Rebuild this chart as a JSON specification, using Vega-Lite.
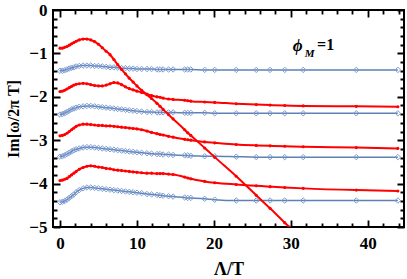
{
  "$schema": "https://vega.github.io/schema/vega-lite/v6.json",
  "width": 351,
  "height": 217,
  "autosize": {"type": "none"},
  "padding": {"left": 53, "top": 10, "right": 3, "bottom": 52},
  "background": "white",
  "config": {
    "view": {"stroke": "black", "strokeWidth": 2},
    "axis": {"domain": false, "ticks": false, "grid": false, "gridColor": "black", "gridWidth": 1.8, "gridOpacity": 1, "zindex": 1, "labelOverlap": false, "labelFont": "Liberation Serif", "labelFontWeight": "bold", "labelFontSize": 17, "labelColor": "black", "titleFont": "Liberation Serif", "titleFontWeight": "bold", "titleFontSize": 17, "titleColor": "black"}
  },
  "datasets": {
    "red": [
      {"c":"r1","x":0,"y":-0.88},{"c":"r1","x":0.3,"y":-0.88},{"c":"r1","x":0.6,"y":-0.86},{"c":"r1","x":0.9,"y":-0.84},{"c":"r1","x":1.2,"y":-0.81},{"c":"r1","x":1.5,"y":-0.78},{"c":"r1","x":1.8,"y":-0.75},{"c":"r1","x":2.1,"y":-0.72},{"c":"r1","x":2.5,"y":-0.69},{"c":"r1","x":3.0,"y":-0.67},{"c":"r1","x":3.5,"y":-0.67},{"c":"r1","x":4.0,"y":-0.69},{"c":"r1","x":4.5,"y":-0.73},{"c":"r1","x":5.0,"y":-0.79},{"c":"r1","x":5.5,"y":-0.87},{"c":"r1","x":6.0,"y":-0.95},{"c":"r1","x":6.5,"y":-1.03},{"c":"r1","x":7.0,"y":-1.14},{"c":"r1","x":7.5,"y":-1.26},{"c":"r1","x":8.0,"y":-1.37},{"c":"r1","x":8.5,"y":-1.47},{"c":"r1","x":9.0,"y":-1.57},{"c":"r1","x":9.5,"y":-1.66},{"c":"r1","x":10.0,"y":-1.75},{"c":"r1","x":10.6,"y":-1.85},{"c":"r1","x":11.3,"y":-1.95},{"c":"r1","x":11.9,"y":-2.04},{"c":"r1","x":12.6,"y":-2.15},{"c":"r1","x":13.0,"y":-2.22},{"c":"r1","x":13.4,"y":-2.29},{"c":"r1","x":14.1,"y":-2.41},{"c":"r1","x":14.7,"y":-2.51},{"c":"r1","x":16.2,"y":-2.76},{"c":"r1","x":16.6,"y":-2.83},{"c":"r1","x":17.0,"y":-2.89},{"c":"r1","x":18.8,"y":-3.18},{"c":"r1","x":20.1,"y":-3.39},{"c":"r1","x":22.9,"y":-3.83},{"c":"r1","x":25.5,"y":-4.27},{"c":"r1","x":27.3,"y":-4.57},{"c":"r1","x":29.2,"y":-4.9},{"c":"r1","x":29.8,"y":-5.0},
      {"c":"r2","x":0,"y":-1.88},{"c":"r2","x":0.3,"y":-1.87},{"c":"r2","x":0.6,"y":-1.85},{"c":"r2","x":0.9,"y":-1.82},{"c":"r2","x":1.2,"y":-1.79},{"c":"r2","x":1.5,"y":-1.76},{"c":"r2","x":1.8,"y":-1.73},{"c":"r2","x":2.1,"y":-1.71},{"c":"r2","x":2.5,"y":-1.7},{"c":"r2","x":3.0,"y":-1.69},{"c":"r2","x":3.5,"y":-1.7},{"c":"r2","x":4.0,"y":-1.72},{"c":"r2","x":4.5,"y":-1.74},{"c":"r2","x":5.0,"y":-1.75},{"c":"r2","x":5.5,"y":-1.75},{"c":"r2","x":6.0,"y":-1.73},{"c":"r2","x":6.5,"y":-1.7},{"c":"r2","x":7.0,"y":-1.67},{"c":"r2","x":7.5,"y":-1.68},{"c":"r2","x":8.0,"y":-1.72},{"c":"r2","x":8.5,"y":-1.77},{"c":"r2","x":9.0,"y":-1.81},{"c":"r2","x":9.5,"y":-1.84},{"c":"r2","x":10.0,"y":-1.87},{"c":"r2","x":10.6,"y":-1.9},{"c":"r2","x":11.3,"y":-1.94},{"c":"r2","x":11.9,"y":-1.97},{"c":"r2","x":12.6,"y":-2.0},{"c":"r2","x":13.0,"y":-2.01},{"c":"r2","x":13.4,"y":-2.03},{"c":"r2","x":14.1,"y":-2.05},{"c":"r2","x":14.7,"y":-2.06},{"c":"r2","x":16.2,"y":-2.08},{"c":"r2","x":16.6,"y":-2.09},{"c":"r2","x":17.0,"y":-2.1},{"c":"r2","x":18.8,"y":-2.12},{"c":"r2","x":20.1,"y":-2.13},{"c":"r2","x":22.9,"y":-2.16},{"c":"r2","x":25.5,"y":-2.18},{"c":"r2","x":27.3,"y":-2.19},{"c":"r2","x":29.2,"y":-2.2},{"c":"r2","x":31.6,"y":-2.21},{"c":"r2","x":38.5,"y":-2.22},{"c":"r2","x":43.9,"y":-2.23},
      {"c":"r3","x":0,"y":-2.9},{"c":"r3","x":0.3,"y":-2.89},{"c":"r3","x":0.6,"y":-2.87},{"c":"r3","x":0.9,"y":-2.84},{"c":"r3","x":1.2,"y":-2.8},{"c":"r3","x":1.5,"y":-2.76},{"c":"r3","x":1.8,"y":-2.72},{"c":"r3","x":2.1,"y":-2.68},{"c":"r3","x":2.5,"y":-2.65},{"c":"r3","x":3.0,"y":-2.63},{"c":"r3","x":3.5,"y":-2.63},{"c":"r3","x":4.0,"y":-2.64},{"c":"r3","x":4.5,"y":-2.65},{"c":"r3","x":5.0,"y":-2.66},{"c":"r3","x":5.5,"y":-2.66},{"c":"r3","x":6.0,"y":-2.67},{"c":"r3","x":6.5,"y":-2.67},{"c":"r3","x":7.0,"y":-2.68},{"c":"r3","x":7.5,"y":-2.69},{"c":"r3","x":8.0,"y":-2.7},{"c":"r3","x":8.5,"y":-2.71},{"c":"r3","x":9.0,"y":-2.72},{"c":"r3","x":9.5,"y":-2.73},{"c":"r3","x":10.0,"y":-2.74},{"c":"r3","x":10.6,"y":-2.76},{"c":"r3","x":11.3,"y":-2.79},{"c":"r3","x":11.9,"y":-2.82},{"c":"r3","x":12.6,"y":-2.85},{"c":"r3","x":13.0,"y":-2.87},{"c":"r3","x":13.4,"y":-2.88},{"c":"r3","x":14.1,"y":-2.91},{"c":"r3","x":14.7,"y":-2.93},{"c":"r3","x":16.2,"y":-2.98},{"c":"r3","x":16.6,"y":-2.99},{"c":"r3","x":17.0,"y":-3.0},{"c":"r3","x":18.8,"y":-3.04},{"c":"r3","x":20.1,"y":-3.06},{"c":"r3","x":22.9,"y":-3.1},{"c":"r3","x":25.5,"y":-3.12},{"c":"r3","x":27.3,"y":-3.13},{"c":"r3","x":29.2,"y":-3.14},{"c":"r3","x":31.6,"y":-3.15},{"c":"r3","x":38.5,"y":-3.17},{"c":"r3","x":43.9,"y":-3.19},
      {"c":"r4","x":0,"y":-3.93},{"c":"r4","x":0.3,"y":-3.92},{"c":"r4","x":0.6,"y":-3.9},{"c":"r4","x":0.9,"y":-3.88},{"c":"r4","x":1.2,"y":-3.84},{"c":"r4","x":1.5,"y":-3.8},{"c":"r4","x":1.8,"y":-3.76},{"c":"r4","x":2.1,"y":-3.72},{"c":"r4","x":2.5,"y":-3.67},{"c":"r4","x":3.0,"y":-3.63},{"c":"r4","x":3.5,"y":-3.6},{"c":"r4","x":4.0,"y":-3.59},{"c":"r4","x":4.5,"y":-3.6},{"c":"r4","x":5.0,"y":-3.62},{"c":"r4","x":5.5,"y":-3.63},{"c":"r4","x":6.0,"y":-3.65},{"c":"r4","x":6.5,"y":-3.66},{"c":"r4","x":7.0,"y":-3.68},{"c":"r4","x":7.5,"y":-3.69},{"c":"r4","x":8.0,"y":-3.7},{"c":"r4","x":8.5,"y":-3.71},{"c":"r4","x":9.0,"y":-3.72},{"c":"r4","x":9.5,"y":-3.73},{"c":"r4","x":10.0,"y":-3.74},{"c":"r4","x":10.6,"y":-3.75},{"c":"r4","x":11.3,"y":-3.76},{"c":"r4","x":11.9,"y":-3.76},{"c":"r4","x":12.6,"y":-3.77},{"c":"r4","x":13.0,"y":-3.77},{"c":"r4","x":13.4,"y":-3.77},{"c":"r4","x":14.1,"y":-3.78},{"c":"r4","x":14.7,"y":-3.79},{"c":"r4","x":16.2,"y":-3.85},{"c":"r4","x":16.6,"y":-3.87},{"c":"r4","x":17.0,"y":-3.89},{"c":"r4","x":18.8,"y":-3.95},{"c":"r4","x":20.1,"y":-3.98},{"c":"r4","x":22.9,"y":-4.02},{"c":"r4","x":25.5,"y":-4.05},{"c":"r4","x":27.3,"y":-4.07},{"c":"r4","x":29.2,"y":-4.09},{"c":"r4","x":31.6,"y":-4.11},{"c":"r4","x":38.5,"y":-4.15},{"c":"r4","x":43.9,"y":-4.17}
    ],
    "blue": [
      {"c":"b1","x":0,"y":-1.4},{"c":"b1","x":0.3,"y":-1.4},{"c":"b1","x":0.6,"y":-1.39},{"c":"b1","x":0.9,"y":-1.37},{"c":"b1","x":1.2,"y":-1.35},{"c":"b1","x":1.5,"y":-1.33},{"c":"b1","x":1.8,"y":-1.32},{"c":"b1","x":2.1,"y":-1.3},{"c":"b1","x":2.5,"y":-1.29},{"c":"b1","x":3.0,"y":-1.28},{"c":"b1","x":3.5,"y":-1.28},{"c":"b1","x":4.0,"y":-1.28},{"c":"b1","x":4.5,"y":-1.29},{"c":"b1","x":5.0,"y":-1.29},{"c":"b1","x":5.5,"y":-1.3},{"c":"b1","x":6.0,"y":-1.31},{"c":"b1","x":6.5,"y":-1.32},{"c":"b1","x":7.0,"y":-1.32},{"c":"b1","x":7.5,"y":-1.33},{"c":"b1","x":8.0,"y":-1.34},{"c":"b1","x":8.5,"y":-1.34},{"c":"b1","x":9.0,"y":-1.35},{"c":"b1","x":9.5,"y":-1.35},{"c":"b1","x":10.0,"y":-1.36},{"c":"b1","x":10.6,"y":-1.36},{"c":"b1","x":11.3,"y":-1.36},{"c":"b1","x":11.9,"y":-1.36},{"c":"b1","x":12.6,"y":-1.37},{"c":"b1","x":13.0,"y":-1.37},{"c":"b1","x":13.4,"y":-1.37},{"c":"b1","x":14.1,"y":-1.37},{"c":"b1","x":14.7,"y":-1.37},{"c":"b1","x":16.2,"y":-1.37},{"c":"b1","x":16.6,"y":-1.37},{"c":"b1","x":17.0,"y":-1.37},{"c":"b1","x":18.8,"y":-1.38},{"c":"b1","x":20.1,"y":-1.38},{"c":"b1","x":22.9,"y":-1.38},{"c":"b1","x":25.5,"y":-1.38},{"c":"b1","x":27.3,"y":-1.38},{"c":"b1","x":29.2,"y":-1.38},{"c":"b1","x":31.6,"y":-1.38},{"c":"b1","x":38.5,"y":-1.38},{"c":"b1","x":43.9,"y":-1.38},
      {"c":"b2","x":0,"y":-2.41},{"c":"b2","x":0.3,"y":-2.4},{"c":"b2","x":0.6,"y":-2.38},{"c":"b2","x":0.9,"y":-2.35},{"c":"b2","x":1.2,"y":-2.32},{"c":"b2","x":1.5,"y":-2.29},{"c":"b2","x":1.8,"y":-2.27},{"c":"b2","x":2.1,"y":-2.25},{"c":"b2","x":2.5,"y":-2.23},{"c":"b2","x":3.0,"y":-2.22},{"c":"b2","x":3.5,"y":-2.21},{"c":"b2","x":4.0,"y":-2.21},{"c":"b2","x":4.5,"y":-2.22},{"c":"b2","x":5.0,"y":-2.23},{"c":"b2","x":5.5,"y":-2.24},{"c":"b2","x":6.0,"y":-2.25},{"c":"b2","x":6.5,"y":-2.26},{"c":"b2","x":7.0,"y":-2.27},{"c":"b2","x":7.5,"y":-2.28},{"c":"b2","x":8.0,"y":-2.29},{"c":"b2","x":8.5,"y":-2.3},{"c":"b2","x":9.0,"y":-2.31},{"c":"b2","x":9.5,"y":-2.32},{"c":"b2","x":10.0,"y":-2.33},{"c":"b2","x":10.6,"y":-2.34},{"c":"b2","x":11.3,"y":-2.35},{"c":"b2","x":11.9,"y":-2.35},{"c":"b2","x":12.6,"y":-2.36},{"c":"b2","x":13.0,"y":-2.36},{"c":"b2","x":13.4,"y":-2.36},{"c":"b2","x":14.1,"y":-2.36},{"c":"b2","x":14.7,"y":-2.36},{"c":"b2","x":16.2,"y":-2.37},{"c":"b2","x":16.6,"y":-2.37},{"c":"b2","x":17.0,"y":-2.37},{"c":"b2","x":18.8,"y":-2.37},{"c":"b2","x":20.1,"y":-2.38},{"c":"b2","x":22.9,"y":-2.38},{"c":"b2","x":25.5,"y":-2.38},{"c":"b2","x":27.3,"y":-2.38},{"c":"b2","x":29.2,"y":-2.38},{"c":"b2","x":31.6,"y":-2.38},{"c":"b2","x":38.5,"y":-2.38},{"c":"b2","x":43.9,"y":-2.38},
      {"c":"b3","x":0,"y":-3.38},{"c":"b3","x":0.3,"y":-3.37},{"c":"b3","x":0.6,"y":-3.35},{"c":"b3","x":0.9,"y":-3.32},{"c":"b3","x":1.2,"y":-3.29},{"c":"b3","x":1.5,"y":-3.26},{"c":"b3","x":1.8,"y":-3.23},{"c":"b3","x":2.1,"y":-3.21},{"c":"b3","x":2.5,"y":-3.19},{"c":"b3","x":3.0,"y":-3.17},{"c":"b3","x":3.5,"y":-3.16},{"c":"b3","x":4.0,"y":-3.16},{"c":"b3","x":4.5,"y":-3.17},{"c":"b3","x":5.0,"y":-3.18},{"c":"b3","x":5.5,"y":-3.19},{"c":"b3","x":6.0,"y":-3.2},{"c":"b3","x":6.5,"y":-3.21},{"c":"b3","x":7.0,"y":-3.22},{"c":"b3","x":7.5,"y":-3.23},{"c":"b3","x":8.0,"y":-3.24},{"c":"b3","x":8.5,"y":-3.25},{"c":"b3","x":9.0,"y":-3.26},{"c":"b3","x":9.5,"y":-3.27},{"c":"b3","x":10.0,"y":-3.28},{"c":"b3","x":10.6,"y":-3.29},{"c":"b3","x":11.3,"y":-3.3},{"c":"b3","x":11.9,"y":-3.31},{"c":"b3","x":12.6,"y":-3.32},{"c":"b3","x":13.0,"y":-3.32},{"c":"b3","x":13.4,"y":-3.33},{"c":"b3","x":14.1,"y":-3.33},{"c":"b3","x":14.7,"y":-3.34},{"c":"b3","x":16.2,"y":-3.35},{"c":"b3","x":16.6,"y":-3.35},{"c":"b3","x":17.0,"y":-3.36},{"c":"b3","x":18.8,"y":-3.37},{"c":"b3","x":20.1,"y":-3.37},{"c":"b3","x":22.9,"y":-3.38},{"c":"b3","x":25.5,"y":-3.39},{"c":"b3","x":27.3,"y":-3.39},{"c":"b3","x":29.2,"y":-3.39},{"c":"b3","x":31.6,"y":-3.39},{"c":"b3","x":38.5,"y":-3.39},{"c":"b3","x":43.9,"y":-3.39},
      {"c":"b4","x":0,"y":-4.43},{"c":"b4","x":0.3,"y":-4.42},{"c":"b4","x":0.6,"y":-4.4},{"c":"b4","x":0.9,"y":-4.37},{"c":"b4","x":1.2,"y":-4.33},{"c":"b4","x":1.5,"y":-4.29},{"c":"b4","x":1.8,"y":-4.25},{"c":"b4","x":2.1,"y":-4.2},{"c":"b4","x":2.5,"y":-4.15},{"c":"b4","x":3.0,"y":-4.11},{"c":"b4","x":3.5,"y":-4.09},{"c":"b4","x":4.0,"y":-4.09},{"c":"b4","x":4.5,"y":-4.1},{"c":"b4","x":5.0,"y":-4.11},{"c":"b4","x":5.5,"y":-4.12},{"c":"b4","x":6.0,"y":-4.13},{"c":"b4","x":6.5,"y":-4.14},{"c":"b4","x":7.0,"y":-4.15},{"c":"b4","x":7.5,"y":-4.16},{"c":"b4","x":8.0,"y":-4.17},{"c":"b4","x":8.5,"y":-4.18},{"c":"b4","x":9.0,"y":-4.19},{"c":"b4","x":9.5,"y":-4.2},{"c":"b4","x":10.0,"y":-4.21},{"c":"b4","x":10.6,"y":-4.22},{"c":"b4","x":11.3,"y":-4.24},{"c":"b4","x":11.9,"y":-4.25},{"c":"b4","x":12.6,"y":-4.26},{"c":"b4","x":13.0,"y":-4.27},{"c":"b4","x":13.4,"y":-4.28},{"c":"b4","x":14.1,"y":-4.29},{"c":"b4","x":14.7,"y":-4.3},{"c":"b4","x":16.2,"y":-4.32},{"c":"b4","x":16.6,"y":-4.33},{"c":"b4","x":17.0,"y":-4.33},{"c":"b4","x":18.8,"y":-4.35},{"c":"b4","x":20.1,"y":-4.37},{"c":"b4","x":22.9,"y":-4.39},{"c":"b4","x":25.5,"y":-4.39},{"c":"b4","x":27.3,"y":-4.39},{"c":"b4","x":29.2,"y":-4.39},{"c":"b4","x":31.6,"y":-4.39},{"c":"b4","x":38.5,"y":-4.39},{"c":"b4","x":43.9,"y":-4.39}
    ]
  },
  "resolve": {"axis": {"x": "independent", "y": "independent"}},
  "layer": [
    {
      "data": {"name": "blue"},
      "mark": {"type": "line", "color": "#5E81B5", "strokeWidth": 1.5, "interpolate": "monotone", "clip": true},
      "encoding": {
        "x": {"field": "x", "type": "quantitative", "scale": {"domain": [-0.91, 44.7], "nice": false, "zero": false},
          "axis": {"orient": "bottom", "title": "Λ/T", "titleFontSize": 18, "values": [0,10,20,30,40],
            "labelOverlap": false, "labelPadding": 8, "titlePadding": 9}},
        "y": {"field": "y", "type": "quantitative", "scale": {"domain": [-5, 0], "nice": false, "zero": false},
          "axis": {"orient": "left", "title": "Im[ω/2π T]", "titleFontSize": 16, "values": [-5,-4,-3,-2,-1,0], "format": "d",
            "labelOverlap": false, "labelPadding": 6, "titlePadding": 7}},
        "detail": {"field": "c"}
      }
    },
    {
      "data": {"name": "blue"},
      "mark": {"type": "point", "shape": "diamond", "filled": false, "stroke": "#7E9CD2", "strokeWidth": 1, "size": 30, "opacity": 1, "clip": true},
      "encoding": {
        "x": {"field": "x", "type": "quantitative", "axis": null},
        "y": {"field": "y", "type": "quantitative", "axis": null}
      }
    },
    {
      "data": {"name": "red"},
      "mark": {"type": "line", "color": "#FF0000", "strokeWidth": 2, "interpolate": "monotone", "clip": true},
      "encoding": {
        "x": {"field": "x", "type": "quantitative",
          "axis": {"orient": "top", "title": null, "labels": false, "grid": true, "values": [0,2,4,6,8,10,12,14,16,18,20,22,24,26,28,30,32,34,36,38,40,42,44],
            "gridDash": {"condition": {"test": "datum.value % 10 === 0", "value": [7, 203]}, "value": [4, 209]}}},
        "y": {"field": "y", "type": "quantitative",
          "axis": {"orient": "right", "title": null, "labels": false, "grid": true, "values": [-5,-4.8,-4.6,-4.4,-4.2,-4,-3.8,-3.6,-3.4,-3.2,-3,-2.8,-2.6,-2.4,-2.2,-2,-1.8,-1.6,-1.4,-1.2,-1,-0.8,-0.6,-0.4,-0.2,0],
            "gridDash": {"condition": {"test": "abs(datum.value - round(datum.value)) < 0.001", "value": [7, 337]}, "value": [4, 343]}}},
        "detail": {"field": "c"}
      }
    },
    {
      "data": {"name": "red"},
      "mark": {"type": "point", "shape": "circle", "filled": true, "color": "#FF0000", "size": 10, "opacity": 1, "clip": true},
      "encoding": {
        "x": {"field": "x", "type": "quantitative", "axis": null},
        "y": {"field": "y", "type": "quantitative", "axis": null}
      }
    },
    {
      "data": {"values": [{"x": 30.26, "y": -0.94, "t": "ϕ"}]},
      "mark": {"type": "text", "align": "left", "baseline": "alphabetic", "font": "Liberation Serif", "fontWeight": "bold", "fontStyle": "italic", "fontSize": 17, "color": "black"},
      "encoding": {
        "x": {"field": "x", "type": "quantitative", "axis": null},
        "y": {"field": "y", "type": "quantitative", "axis": null},
        "text": {"field": "t"}
      }
    },
    {
      "data": {"values": [{"x": 31.8, "y": -1.08, "t": "M"}]},
      "mark": {"type": "text", "align": "left", "baseline": "alphabetic", "font": "Liberation Serif", "fontWeight": "bold", "fontStyle": "italic", "fontSize": 11, "color": "black"},
      "encoding": {
        "x": {"field": "x", "type": "quantitative", "axis": null},
        "y": {"field": "y", "type": "quantitative", "axis": null},
        "text": {"field": "t"}
      }
    },
    {
      "data": {"values": [{"x": 33.4, "y": -0.915, "t": "=1"}]},
      "mark": {"type": "text", "align": "left", "baseline": "alphabetic", "font": "Liberation Serif", "fontWeight": "bold", "fontSize": 16, "color": "black"},
      "encoding": {
        "x": {"field": "x", "type": "quantitative", "axis": null},
        "y": {"field": "y", "type": "quantitative", "axis": null},
        "text": {"field": "t"}
      }
    }
  ]
}
